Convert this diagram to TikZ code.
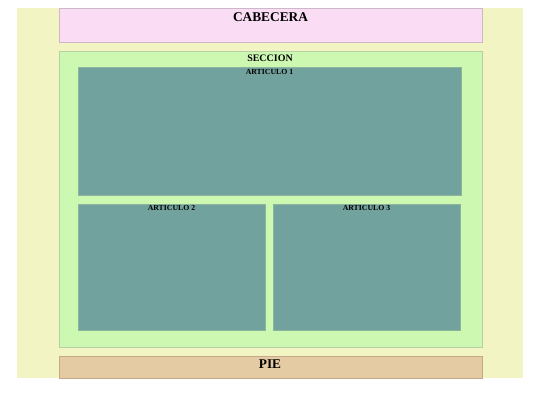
\documentclass[tikz,border=0pt]{standalone}
\usepackage{fontspec}
\setmainfont{Liberation Serif}
\definecolor{bgyel}{HTML}{F3F4C3}
\definecolor{pinkc}{HTML}{FADDF4}
\definecolor{pinkb}{HTML}{CDB8C8}
\definecolor{greenc}{HTML}{CDF8B2}
\definecolor{greenb}{HTML}{B5D0A2}
\definecolor{tealc}{HTML}{71A29E}
\definecolor{tealb}{HTML}{8CB59C}
\definecolor{piec}{HTML}{E5CBA4}
\definecolor{pieb}{HTML}{C2A98A}
\tikzset{
  box/.style={rectangle, anchor=north west, inner sep=0pt, line width=0.8bp},
  ttl/.style={inner sep=0pt, font=\bfseries\fontsize{13.4}{15}\selectfont},
  sttl/.style={inner sep=0pt, font=\bfseries\fontsize{10}{12}\selectfont},
  attl/.style={inner sep=0pt, font=\bfseries\fontsize{7.8}{9}\selectfont},
}
\begin{document}
\begin{tikzpicture}[x=1bp, y=-1bp]
\useasboundingbox (0,0) rectangle (540,405);
\fill[white] (0,0) rectangle (540,405);
\node[box, fill=bgyel, minimum width=506bp, minimum height=370bp] (bg) at (17,8) {};
\node[box, fill=pinkc, draw=pinkb, minimum width=422.2bp, minimum height=33.5bp] (cab) at (59.4,8.4) {};
\node[ttl] (cabt) at (270.5,16.7) {CABECERA};
\node[box, fill=greenc, draw=greenb, minimum width=422.2bp, minimum height=296bp] (sec) at (59.4,51.4) {};
\node[sttl] (sect) at (270,57.8) {SECCION};
\node[box, fill=tealc, draw=tealb, minimum width=382.2bp, minimum height=127.2bp] (a1) at (78.4,67.4) {};
\node[attl] (a1t) at (269.5,71.8) {ARTICULO 1};
\node[box, fill=tealc, draw=tealb, minimum width=186.2bp, minimum height=126.6bp] (a2) at (78.4,203.6) {};
\node[attl] (a2t) at (171.5,208.3) {ARTICULO 2};
\node[box, fill=tealc, draw=tealb, minimum width=186.2bp, minimum height=126.6bp] (a3) at (273.4,203.6) {};
\node[attl] (a3t) at (366.5,208.3) {ARTICULO 3};
\node[box, fill=piec, draw=pieb, minimum width=422.2bp, minimum height=21.3bp] (pie) at (59.4,356.4) {};
\node[ttl] (piet) at (270,364.6) {PIE};
\end{tikzpicture}
\end{document}
